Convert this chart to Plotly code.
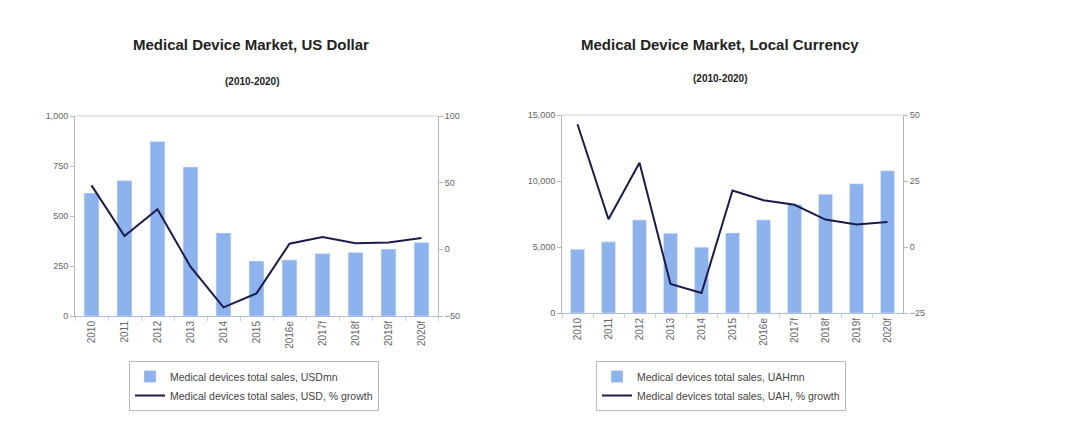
import plotly.graph_objects as go

categories = ["2010", "2011", "2012", "2013", "2014", "2015", "2016e", "2017f", "2018f", "2019f", "2020f"]
usd_sales = [615, 677, 873, 745, 415, 275, 280, 312, 318, 335, 367]
usd_growth = [48, 10, 30, -13, -43.5, -33, 4.2, 9.2, 4.5, 5.2, 8.5]
uah_sales = [4830, 5390, 7050, 6050, 4980, 6070, 7050, 8220, 9000, 9790, 10770]
uah_growth = [46.5, 10.5, 31.9, -14, -17.4, 21.4, 17.7, 16, 10.4, 8.5, 9.5]

BAR = "#8cb3ee"
LINE = "#1b1b4d"
FONT = "Liberation Sans, Arial, sans-serif"
OFF = 8  # page body margin
W, H = 1066 - OFF, 444 - OFF

def px_x(x):
    return (x - OFF) / W

def px_y(y):
    return 1 - (y - OFF) / H

fig = go.Figure()

fig.add_trace(go.Bar(x=categories, y=usd_sales, name="Medical devices total sales, USDmn",
                     marker_color=BAR, xaxis="x", yaxis="y", legend="legend"))
fig.add_trace(go.Scatter(x=categories, y=usd_growth, name="Medical devices total sales, USD, % growth",
                         mode="lines", line=dict(color=LINE, width=2), xaxis="x", yaxis="y2", legend="legend"))
fig.add_trace(go.Bar(x=categories, y=uah_sales, name="Medical devices total sales, UAHmn",
                     marker_color=BAR, xaxis="x2", yaxis="y3", legend="legend2"))
fig.add_trace(go.Scatter(x=categories, y=uah_growth, name="Medical devices total sales, UAH, % growth",
                         mode="lines", line=dict(color=LINE, width=2), xaxis="x2", yaxis="y4", legend="legend2"))

tick_font = dict(family=FONT, size=9, color="#666")
xtick_font = dict(family=FONT, size=10, color="#666")
xcommon = dict(type="category", tickangle=-90, showgrid=False, showline=True, linecolor="#a9bde0",
               ticks="outside", ticklen=4, tickcolor="#c8d3e8", tickson="boundaries",
               tickfont=xtick_font, fixedrange=True, automargin=False)
ycommon = dict(showgrid=False, showline=True, linecolor="#b8b8b8", ticks="outside", ticklen=4,
               tickcolor="#b8b8b8", tickfont=tick_font, zeroline=False, automargin=False)

ydomL = [px_y(316), px_y(116)]
ydomR = [px_y(313), px_y(115)]

legend_common = dict(xanchor="left", yanchor="top", bordercolor="#bbbbbb", borderwidth=1,
                     bgcolor="white", font=dict(family=FONT, size=10.5, color="#444"),
                     tracegroupgap=0, itemwidth=30)

fig.update_layout(
    width=W, height=H,
    margin=dict(l=0, r=0, t=0, b=0),
    paper_bgcolor="white", plot_bgcolor="white",
    bargap=0.55,
    showlegend=True,
    font=dict(family=FONT),
    xaxis=dict(domain=[px_x(75), px_x(438)], anchor="y", **xcommon),
    yaxis=dict(domain=ydomL, anchor="x", range=[0, 1000], tickvals=[0, 250, 500, 750, 1000],
               tickformat=",", **ycommon),
    yaxis2=dict(overlaying="y", side="right", anchor="x", range=[-50, 100], tickvals=[-50, 0, 50, 100],
                **ycommon),
    xaxis2=dict(domain=[px_x(562), px_x(903)], anchor="y3", **xcommon),
    yaxis3=dict(domain=ydomR, anchor="x2", range=[0, 15000], tickvals=[0, 5000, 10000, 15000],
                tickformat=",", **ycommon),
    yaxis4=dict(overlaying="y3", side="right", anchor="x2", range=[-25, 50], tickvals=[-25, 0, 25, 50],
                **ycommon),
    legend=dict(x=px_x(129), y=px_y(361), **legend_common),
    legend2=dict(x=px_x(596), y=px_y(361), **legend_common),
    annotations=[
        dict(text="<b>Medical Device Market, US Dollar</b>", x=px_x(251), y=px_y(45), xref="paper", yref="paper",
             xanchor="center", yanchor="middle", showarrow=False, font=dict(family=FONT, size=15, color="#222")),
        dict(text="<b>(2010-2020)</b>", x=px_x(252), y=px_y(81), xref="paper", yref="paper",
             xanchor="center", yanchor="middle", showarrow=False, font=dict(family=FONT, size=10, color="#222")),
        dict(text="<b>Medical Device Market, Local Currency</b>", x=px_x(720), y=px_y(45), xref="paper", yref="paper",
             xanchor="center", yanchor="middle", showarrow=False, font=dict(family=FONT, size=15, color="#222")),
        dict(text="<b>(2010-2020)</b>", x=px_x(720), y=px_y(78), xref="paper", yref="paper",
             xanchor="center", yanchor="middle", showarrow=False, font=dict(family=FONT, size=10, color="#222")),
    ],
    shapes=[
        dict(type="line", xref="x domain", yref="y domain", x0=0, x1=1, y0=1, y1=1,
             line=dict(color="#d0d0d0", width=1)),
        dict(type="line", xref="x2 domain", yref="y3 domain", x0=0, x1=1, y0=1, y1=1,
             line=dict(color="#d0d0d0", width=1)),
    ],
)

fig.write_html("out.html")
